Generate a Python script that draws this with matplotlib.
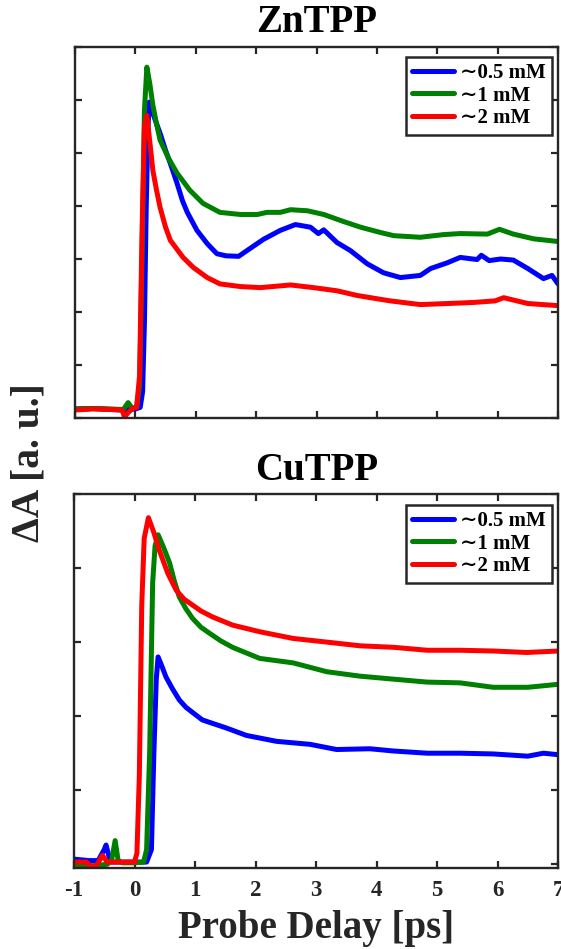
import numpy as np
import matplotlib
matplotlib.use("Agg")
import matplotlib.pyplot as plt

plt.rcParams['font.family'] = ['Liberation Serif', 'DejaVu Serif']
plt.rcParams['font.weight'] = 'bold'

legend_labels = ['\u223c0.5 mM', '\u223c1 mM', '\u223c2 mM']
colors = ['#0000ff', '#008000', '#ff0000']

# ---------------- ZnTPP ----------------
zn_blue_x = [-1.0, -0.7, -0.4, -0.2, 0.0, 0.08, 0.12, 0.15, 0.18, 0.21, 0.23, 0.32, 0.41, 0.5, 0.58, 0.69, 0.78, 0.86,
             1.02, 1.19, 1.35, 1.5, 1.71, 1.85, 2.12, 2.40, 2.65, 2.9, 3.03, 3.12, 3.34, 3.56, 3.84, 4.11,
             4.39, 4.72, 4.89, 5.17, 5.38, 5.66, 5.73, 5.86, 6.05, 6.26, 6.5, 6.76, 6.9, 7.0]
zn_blue_y = [0.17, 0.18, 0.16, 0.15, 0.17, 0.2, 0.5, 1.8, 4.0, 5.5, 5.96, 5.65, 5.37, 5.05, 4.8, 4.43, 4.1, 3.88,
             3.54, 3.29, 3.1, 3.06, 3.05, 3.16, 3.37, 3.54, 3.65, 3.6, 3.48, 3.55, 3.31, 3.16, 2.91, 2.74,
             2.65, 2.69, 2.82, 2.93, 3.03, 2.99, 3.07, 2.97, 3.0, 2.98, 2.82, 2.63, 2.69, 2.53]
zn_green_x = [-1.0, -0.7, -0.4, -0.2, -0.12, -0.05, 0.02, 0.07, 0.11, 0.15, 0.19, 0.24, 0.29, 0.35, 0.41, 0.55, 0.69,
              0.9, 1.12, 1.40, 1.74, 2.02, 2.18, 2.40, 2.57, 2.85, 3.12, 3.44, 3.73, 4.06, 4.28, 4.72,
              5.10, 5.38, 5.83, 6.03, 6.26, 6.6, 7.0]
zn_green_y = [0.17, 0.18, 0.17, 0.16, 0.29, 0.18, 0.2, 0.6, 3.0, 5.8, 6.62, 6.3, 5.9, 5.55, 5.24, 4.9, 4.62,
              4.3, 4.05, 3.88, 3.84, 3.84, 3.88, 3.88, 3.93, 3.91, 3.84, 3.71, 3.6, 3.5, 3.44, 3.41,
              3.46, 3.48, 3.47, 3.56, 3.47, 3.38, 3.33]
zn_red_x = [-1.0, -0.7, -0.4, -0.22, -0.18, -0.12, -0.05, 0.02, 0.07, 0.11, 0.15, 0.19, 0.24, 0.29, 0.35, 0.41, 0.5,
            0.58, 0.79, 0.96, 1.19, 1.40, 1.74, 2.07, 2.57, 2.95, 3.34, 3.68, 4.22, 4.72, 5.17, 5.60,
            5.96, 6.1, 6.5, 7.0]
zn_red_y = [0.15, 0.17, 0.16, 0.15, 0.02, 0.1, 0.18, 0.2, 0.8, 3.5, 5.5, 5.71, 5.2, 4.67, 4.3, 3.97, 3.6,
            3.35, 3.03, 2.84, 2.65, 2.53, 2.48, 2.46, 2.51, 2.46, 2.40, 2.31, 2.21, 2.14, 2.16, 2.18,
            2.21, 2.27, 2.16, 2.12]

# ---------------- CuTPP ----------------
cu_blue_x = [-1.0, -0.75, -0.6, -0.5, -0.47, -0.42, -0.38, -0.2, 0.0, 0.2, 0.28, 0.32, 0.36, 0.39, 0.45, 0.52, 0.62,
             0.74, 0.85, 0.96, 1.12, 1.3, 1.52, 1.85, 2.35, 2.9, 3.34, 3.89, 4.28, 4.84, 5.38, 5.93, 6.5,
             6.76, 7.0]
cu_blue_y = [0.07, 0.05, 0.05, 0.2, 0.26, 0.1, 0.03, 0.03, 0.03, 0.03, 0.2, 1.5, 2.5, 2.8, 2.68, 2.53, 2.38,
             2.22, 2.12, 2.05, 1.95, 1.9, 1.84, 1.74, 1.66, 1.62, 1.55, 1.56, 1.53, 1.50, 1.50, 1.49, 1.46,
             1.50, 1.48]
cu_green_x = [-1.0, -0.7, -0.45, -0.38, -0.32, -0.27, -0.2, 0.0, 0.15, 0.2, 0.25, 0.3, 0.34, 0.39, 0.48, 0.58, 0.66,
              0.74, 0.85, 0.96, 1.1, 1.24, 1.42, 1.62, 2.07, 2.62, 3.18, 3.73, 4.28, 4.84, 5.38, 5.93,
              6.5, 7.0]
cu_green_y = [-0.02, -0.02, 0.0, 0.05, 0.32, 0.05, 0.02, 0.02, 0.03, 0.2, 1.5, 3.8, 4.3, 4.45, 4.28, 4.07, 3.82,
              3.61, 3.45, 3.32, 3.2, 3.12, 3.02, 2.93, 2.78, 2.72, 2.60, 2.54, 2.50, 2.46, 2.45, 2.39,
              2.39, 2.43]
cu_red_x = [-1.0, -0.8, -0.67, -0.6, -0.53, -0.45, -0.3, 0.0, 0.04, 0.08, 0.12, 0.16, 0.23, 0.32, 0.41, 0.55, 0.69,
            0.82, 0.96, 1.1, 1.29, 1.62, 2.07, 2.62, 3.18, 3.73, 4.28, 4.84, 5.38, 5.93, 6.48, 7.0]
cu_red_y = [0.03, 0.03, -0.05, 0.02, 0.12, 0.03, 0.03, 0.03, 0.15, 1.2, 3.5, 4.4, 4.68, 4.48, 4.24, 3.93, 3.70,
            3.58, 3.5, 3.42, 3.34, 3.23, 3.14, 3.05, 3.0, 2.95, 2.93, 2.89, 2.89, 2.88, 2.86, 2.88]

x_ticks = [-1, 0, 1, 2, 3, 4, 5, 6, 7]
titles = ['ZnTPP', 'CuTPP']

W, H = 561, 949
fig = plt.figure(figsize=(W / 100, H / 100), dpi=100)

def rect(l, t, r, b):
    return [l / W, (H - b) / H, (r - l) / W, (b - t) / H]

ax1 = fig.add_axes(rect(75, 47, 558, 418))
ax2 = fig.add_axes(rect(74, 494, 558, 868))

dark = '#262626'
panels = [
    (ax1, [(zn_blue_x, zn_blue_y), (zn_green_x, zn_green_y), (zn_red_x, zn_red_y)], (0, 7), range(0, 8),
     (552, 57), 32),
    (ax2, [(cu_blue_x, cu_blue_y), (cu_green_x, cu_green_y), (cu_red_x, cu_red_y)], (-0.05, 5), range(0, 6),
     (552, 505), 480),
]
for i, (ax, series, ylim, yt, legpos, title_base) in enumerate(panels):
    for (xs, ys), c, lab in zip(series, colors, legend_labels):
        ax.plot(xs, ys, color=c, lw=3.6, label=lab, solid_joinstyle='round', solid_capstyle='round')
    ax.set_xlim(-1, 7)
    ax.set_ylim(*ylim)
    ax.set_xticks(x_ticks)
    ax.set_yticks(list(yt))
    ax.set_yticklabels([])
    ax.tick_params(direction='in', top=True, right=True, length=5, width=1.6, color=dark,
                   labelsize=16.5, labelcolor=dark, pad=9)
    for s in ax.spines.values():
        s.set_linewidth(1.7)
        s.set_color(dark)
    fig.text(317 / W, (H - title_base) / H, titles[i], fontsize=28, fontweight='bold',
             color='black', ha='center', va='baseline')
    leg = ax.legend(loc='upper right', bbox_to_anchor=(legpos[0] / W, (H - legpos[1]) / H),
                    bbox_transform=fig.transFigure, fontsize=15, frameon=True, fancybox=False,
                    handlelength=2.0, handletextpad=0.3, labelspacing=0.12,
                    borderpad=0.3, borderaxespad=0)
    leg.get_frame().set_edgecolor(dark)
    leg.get_frame().set_linewidth(1.8)
    leg.get_frame().set_alpha(1)
    for t in leg.get_texts():
        t.set_fontweight('bold')

ax1.set_xticklabels([])
ax2.set_xticklabels([str(t) for t in x_ticks], fontweight='bold')
fig.text(316 / W, (H - 938) / H, 'Probe Delay [ps]', fontsize=28, fontweight='bold',
         color=dark, ha='center', va='baseline')
fig.text(29 / W, (H - 463) / H, '\u0394A [a. u.]', rotation=90, fontsize=28.5, fontweight='bold',
         color=dark, ha='center', va='center')

fig.savefig('out.png', dpi=100)
